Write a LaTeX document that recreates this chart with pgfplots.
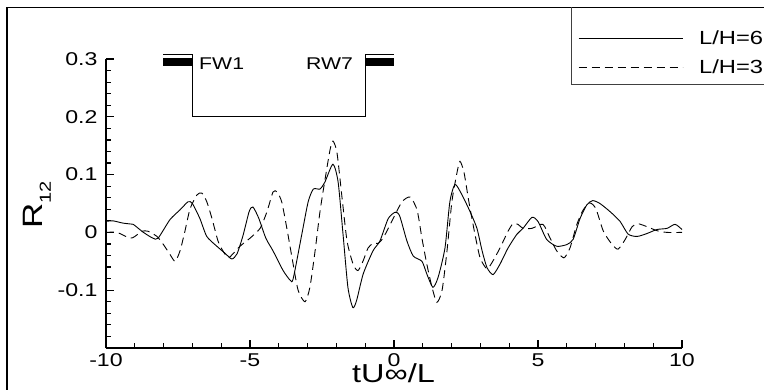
\documentclass[border=0pt]{standalone}
\usepackage{pgfplots}
\pgfplotsset{compat=1.18}
\usepackage{fontspec}
\setmainfont{Liberation Sans}[FakeStretch=1.25]
\begin{document}
\begin{tikzpicture}
\useasboundingbox (0pt,0pt) rectangle (764pt,389pt);
\draw[line width=1.6pt] (7pt,-5pt) -- (7pt,381.5pt) -- (775pt,381.5pt);
\draw[line width=0.9pt, black!75] (571pt,381.5pt) -- (571pt,305pt) -- (775pt,305pt);
\begin{axis}[
  at={(106pt,41pt)}, anchor=south west,
  scale only axis, width=576pt, height=289pt,
  xmin=-10, xmax=10, ymin=-0.2, ymax=0.3,
  axis x line*=bottom, axis y line*=left,
  axis line style={line width=1.6pt},
  tick align=inside,
  major tick length=8pt, minor tick length=5pt,
  every tick/.style={black, line width=1.2pt},
  xtick={-10,-5,0,5,10}, xticklabels={-10,-5,0,5,10},
  ytick={-0.2,-0.1,0,0.1,0.2,0.3}, yticklabels={,-0.1,0,0.1,0.2,0.3},
  minor x tick num=4, minor y tick num=4,
  tick label style={font=\fontsize{18.5}{21}\selectfont},
  xticklabel style={yshift=-2pt},
  yticklabel style={xshift=-5pt},
  xlabel={tU∞/L},
  ylabel={R\raisebox{-0.28em}{\fontsize{16}{16}\selectfont 12}},
  label style={font=\fontsize{26}{30}\selectfont},
  xlabel style={at={(axis description cs:0.4991,-0.1211)}, anchor=base},
  ylabel style={at={(axis description cs:-0.1094,0.495)}, anchor=base, font=\fontsize{28}{32}\selectfont},
  clip=false,
  legend style={draw=none, fill=none, at={(axis description cs:0.8194,1.1055)}, anchor=north west,
    font=\fontsize{19}{22}\selectfont, row sep=10pt, inner sep=0pt,
    /tikz/every odd column/.append style={column sep=14pt}},
  legend cell align=left,
  legend image code/.code={\draw[#1] (0pt,0pt) -- (104pt,0pt);},
]
\addplot[black, line width=0.9pt, smooth, tension=0.4] coordinates {
(-10,0.019)(-9.76,0.02)(-9.4,0.016)(-9.06,0.014)(-9.0,0.012)(-8.7,0.0)(-8.37,-0.01)(-8.19,-0.01)(-7.78,0.022)(-7.43,0.039)(-7.15,0.053)(-7.0,0.05)(-6.74,0.024)(-6.5,-0.007)(-6.15,-0.024)(-5.87,-0.036)(-5.63,-0.046)(-5.45,-0.037)(-5.24,-0.005)(-5.03,0.036)(-4.9,0.044)(-4.7,0.025)(-4.45,-0.01)(-4.2,-0.032)(-3.85,-0.066)(-3.6,-0.083)(-3.5,-0.08)(-3.2,-0.003)(-2.98,0.053)(-2.8,0.075)(-2.57,0.075)(-2.4,0.087)(-2.12,0.118)(-1.94,0.087)(-1.77,-0.003)(-1.6,-0.095)(-1.43,-0.13)(-1.3,-0.118)(-1.07,-0.072)(-0.73,-0.032)(-0.49,-0.015)(-0.2,0.024)(0.05,0.035)(0.2,0.028)(0.45,-0.015)(0.67,-0.041)(0.97,-0.05)(1.14,-0.072)(1.35,-0.095)(1.53,-0.078)(1.77,-0.027)(1.94,0.053)(2.12,0.083)(2.36,0.065)(2.64,0.036)(2.88,0.007)(3.06,-0.032)(3.23,-0.061)(3.44,-0.073)(3.68,-0.055)(3.96,-0.027)(4.27,-0.003)(4.48,0.007)(4.79,0.026)(5.0,0.019)(5.3,-0.012)(5.65,-0.024)(6.0,-0.021)(6.22,-0.012)(6.46,0.024)(6.7,0.048)(6.9,0.055)(7.15,0.05)(7.5,0.036)(7.85,0.019)(8.13,-0.003)(8.44,-0.007)(8.78,-0.002)(9.13,0.005)(9.48,0.007)(9.76,0.014)(10,0.005)
};
\addlegendentry{L/H=6}
\addplot[black, line width=0.9pt, dash pattern=on 8pt off 5pt, smooth, tension=0.4] coordinates {
(-10,0)(-9.62,0)(-9.17,-0.01)(-9.0,-0.007)(-8.75,0.002)(-8.54,0.002)(-8.23,-0.007)(-8.02,-0.02)(-7.78,-0.038)(-7.6,-0.05)(-7.43,-0.032)(-7.26,0.002)(-7.08,0.041)(-6.84,0.065)(-6.67,0.068)(-6.5,0.053)(-6.32,0.024)(-6.11,-0.015)(-5.94,-0.032)(-5.76,-0.044)(-5.59,-0.037)(-5.35,-0.024)(-5.0,-0.01)(-4.65,0.007)(-4.41,0.036)(-4.2,0.07)(-4.06,0.07)(-3.9,0.053)(-3.72,0.007)(-3.54,-0.044)(-3.33,-0.1)(-3.09,-0.12)(-2.92,-0.095)(-2.74,-0.032)(-2.57,0.036)(-2.4,0.09)(-2.22,0.143)(-2.12,0.158)(-1.98,0.138)(-1.8,0.058)(-1.63,-0.015)(-1.42,-0.055)(-1.25,-0.066)(-1.07,-0.049)(-0.9,-0.027)(-0.73,-0.019)(-0.55,-0.019)(-0.38,-0.01)(-0.2,0.007)(-0.03,0.024)(0.28,0.053)(0.56,0.061)(0.8,0.039)(0.97,-0.01)(1.14,-0.055)(1.32,-0.095)(1.49,-0.121)(1.67,-0.1)(1.84,-0.032)(2.01,0.053)(2.19,0.104)(2.29,0.123)(2.43,0.104)(2.6,0.053)(2.81,-0.003)(2.99,-0.044)(3.23,-0.063)(3.44,-0.049)(3.68,-0.027)(3.96,0.002)(4.13,0.015)(4.3,0.014)(4.48,0.007)(4.79,0.007)(5.17,0.014)(5.42,-0.01)(5.65,-0.032)(5.9,-0.044)(6.11,-0.027)(6.35,0.014)(6.57,0.039)(6.8,0.051)(7.01,0.041)(7.27,0.002)(7.56,-0.02)(7.78,-0.029)(8.03,-0.012)(8.27,0.01)(8.47,0.015)(8.78,0.01)(9.13,0.003)(9.48,0)(10,0)
};
\addlegendentry{L/H=3}
% schematic
\addplot[fill=black, draw=none, forget plot] coordinates {(-8.02,0.2875)(-7,0.2875)(-7,0.302)(-8.02,0.302)} -- cycle;
\addplot[fill=black, draw=none, forget plot] coordinates {(-1,0.2875)(0,0.2875)(0,0.302)(-1,0.302)} -- cycle;
\addplot[black, line width=0.8pt, forget plot] coordinates {(-8.02,0.3085)(-7,0.3085)(-7,0.2)(-1,0.2)(-1,0.3085)(0,0.3085)};
\node[font=\fontsize{17}{20}\selectfont, anchor=base west, inner sep=0pt] at (axis cs:-6.77,0.282) {FW1};
\node[font=\fontsize{17}{20}\selectfont, anchor=base east, inner sep=0pt] at (axis cs:-1.42,0.282) {RW7};
\end{axis}
\end{tikzpicture}
\end{document}
